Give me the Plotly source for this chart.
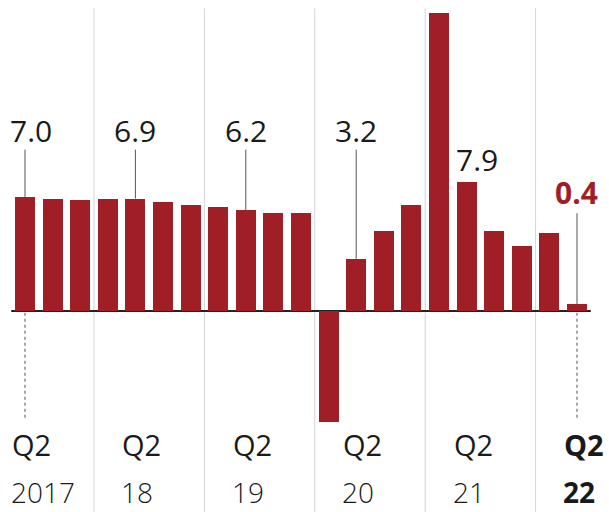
import plotly.graph_objects as go

# China GDP, year-on-year % change, quarterly
quarters = ["2017 Q2", "2017 Q3", "2017 Q4",
            "2018 Q1", "2018 Q2", "2018 Q3", "2018 Q4",
            "2019 Q1", "2019 Q2", "2019 Q3", "2019 Q4",
            "2020 Q1", "2020 Q2", "2020 Q3", "2020 Q4",
            "2021 Q1", "2021 Q2", "2021 Q3", "2021 Q4",
            "2022 Q1", "2022 Q2"]
growth = [7.0, 6.9, 6.8,
          6.9, 6.9, 6.7, 6.5,
          6.4, 6.2, 6.0, 6.0,
          -6.8, 3.2, 4.9, 6.5,
          18.3, 7.9, 4.9, 4.0,
          4.8, 0.4]
year_labels = ["2017", "18", "19", "20", "21", "22"]

BAR = "#a01f27"
TEXT = "#1a1a1a"
FONT = "Open Sans"

x = list(range(len(quarters)))
q2_idx = [i for i, q in enumerate(quarters) if q.endswith("Q2")]
last = len(quarters) - 1

fig = go.Figure(go.Bar(x=x, y=growth, marker=dict(color=BAR, line_width=0),
                       width=0.72, hoverinfo="skip"))

shapes = []
# year separators (between Q4 and Q1)
for i, q in enumerate(quarters):
    if q.endswith("Q4"):
        shapes.append(dict(type="line", xref="x", yref="paper", x0=i + 0.5, x1=i + 0.5,
                           y0=0, y1=0.984, line=dict(color="#d4d4d4", width=1), layer="below"))
# zero line
shapes.append(dict(type="line", xref="x", yref="y", x0=-0.5, x1=last + 0.5, y0=0, y1=0,
                   line=dict(color="#222222", width=2), layer="below"))
# dotted guides to the first and last Q2 tick labels
for i in (q2_idx[0], last):
    shapes.append(dict(type="line", xref="x", yref="y", x0=i, x1=i, y0=-0.1, y1=-6.6,
                       line=dict(color="#8a8a8a", width=1.5, dash="dot")))

annotations = []
# value labels with leader lines
for k, i in enumerate(q2_idx):
    v = growth[i]
    if i == last:
        shapes.append(dict(type="line", xref="x", yref="y", x0=i, x1=i, y0=v, y1=6.0,
                           line=dict(color="#555555", width=1)))
        annotations.append(dict(x=i, y=7.3, xref="x", yref="y", text="<b>%.1f</b>" % v,
                                showarrow=False, xanchor="center", yanchor="middle",
                                font=dict(family=FONT, size=30, color=BAR)))
    elif v > 7.5:
        annotations.append(dict(x=i, y=v + 1.4, xref="x", yref="y", text="%.1f" % v,
                                showarrow=False, xanchor="center", yanchor="middle", xshift=10,
                                font=dict(family=FONT, size=30, color=TEXT)))
    else:
        shapes.append(dict(type="line", xref="x", yref="y", x0=i, x1=i, y0=v, y1=9.9,
                           line=dict(color="#555555", width=1)))
        annotations.append(dict(x=i, y=11.1, xref="x", yref="y", text="%.1f" % v,
                                showarrow=False, xanchor="center", yanchor="middle",
                                xshift=6 if k == 0 else 0,
                                font=dict(family=FONT, size=30, color=TEXT)))

# bottom tick labels: quarter and year
for k, i in enumerate(q2_idx):
    bold = i == last
    annotations.append(dict(x=i, y=1 - 444 / 512, xref="x", yref="paper",
                            text="<b>Q2</b>" if bold else "Q2", showarrow=False,
                            xanchor="left", yanchor="middle", xshift=-15,
                            font=dict(family=FONT, size=29, color=TEXT)))
    annotations.append(dict(x=i, y=0, xref="x", yref="paper",
                            text="<b>%s</b>" % year_labels[k] if bold else year_labels[k],
                            showarrow=False, xanchor="left", yanchor="bottom", xshift=-15,
                            borderpad=0,
                            font=dict(family=FONT, size=28, color=TEXT,
                                      weight=700 if bold else 300)))

fig.update_layout(
    width=609, height=512,
    margin=dict(l=0, r=0, t=0, b=0),
    paper_bgcolor="white", plot_bgcolor="white",
    showlegend=False,
    bargap=0,
    xaxis=dict(range=[-0.906, 21.16], visible=False, fixedrange=True),
    yaxis=dict(range=[-12.33, 19.08], visible=False, fixedrange=True),
    shapes=shapes,
    annotations=annotations,
)

fig.write_html("out.html")
